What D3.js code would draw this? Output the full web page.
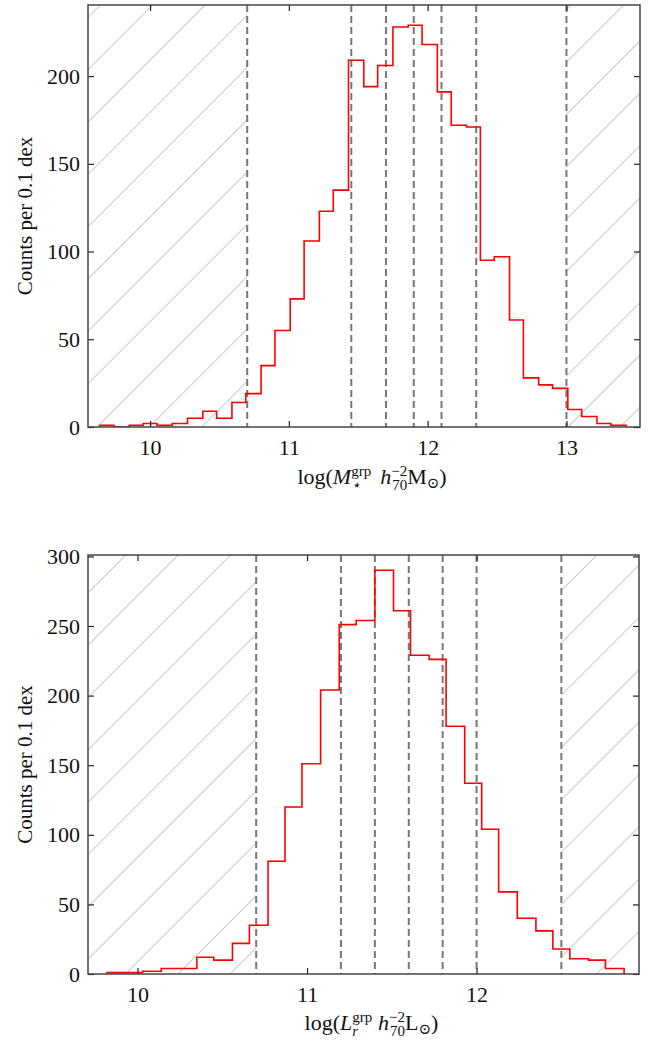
<!DOCTYPE html>
<html lang="en">
<head>
<meta charset="UTF-8">
<title>Group stellar mass and luminosity histograms</title>
<style>
  body { margin: 0; background: #fff; }
  svg text { font-family: "Liberation Serif", "Times New Roman", "DejaVu Serif", serif !important; fill: #111; }
</style>
</head>
<body>
<div id="chart"></div>
<script src="https://cdnjs.cloudflare.com/ajax/libs/d3/7.8.5/d3.min.js"></script>
<script>
// top panel: log stellar mass of groups
const massEdges = [9.64, 9.74, 9.85, 9.95, 10.05, 10.16, 10.27, 10.38, 10.48, 10.59, 10.69,
  10.80, 10.90, 11.01, 11.11, 11.22, 11.32, 11.43, 11.54, 11.64, 11.75, 11.86, 11.96, 12.07,
  12.17, 12.28, 12.38, 12.48, 12.59, 12.69, 12.80, 12.90, 13.01, 13.11, 13.22, 13.32, 13.43];
const massCounts = [1, 0, 1, 2, 1, 2, 5, 9, 5, 14, 19, 35, 55, 73, 106, 123, 135, 209, 194, 206,
  228, 229, 218, 191, 172, 171, 95, 97, 61, 28, 24, 22, 10, 6, 2, 1];
const massCuts = [10.7, 11.45, 11.7, 11.9, 12.1, 12.35, 13.0];
const massTicksX = [10, 11, 12, 13];
const massTicksY = [0, 50, 100, 150, 200];

// bottom panel: log r-band luminosity of groups
const lumEdges = [9.82, 9.92, 10.03, 10.14, 10.24, 10.35, 10.45, 10.56, 10.66, 10.77, 10.87,
  10.97, 11.08, 11.19, 11.29, 11.40, 11.51, 11.61, 11.72, 11.82, 11.93, 12.03, 12.13, 12.24,
  12.35, 12.45, 12.55, 12.66, 12.76, 12.87];
const lumCounts = [1, 1, 2, 4, 4, 12, 10, 22, 35, 81, 120, 151, 204, 251, 254, 290, 261, 229,
  226, 178, 137, 104, 59, 40, 31, 18, 11, 10, 4];
const lumCuts = [10.7, 11.2, 11.4, 11.6, 11.8, 12.0, 12.5];
const lumTicksX = [10, 11, 12];
const lumTicksY = [0, 50, 100, 150, 200, 250, 300];

const W = 659, H = 1043;
const svg = d3.select('#chart').append('svg').attr('width', W).attr('height', H);

const defs = svg.append('defs');
const pat = defs.append('pattern')
  .attr('id', 'hatch').attr('patternUnits', 'userSpaceOnUse')
  .attr('width', 37).attr('height', 37)
  .attr('patternTransform', 'rotate(45)');
pat.append('line').attr('x1', 0).attr('y1', 0).attr('x2', 0).attr('y2', 37)
  .attr('stroke', '#aaa').attr('stroke-width', 1.3);

function panel(cfg) {
  const x = d3.scaleLinear().domain(cfg.xdom).range([cfg.left, cfg.right]);
  const y = d3.scaleLinear().domain(cfg.ydom).range([cfg.bottom, cfg.top]);
  const g = svg.append('g');
  const clipId = 'clip' + cfg.id;
  defs.append('clipPath').attr('id', clipId).append('rect')
    .attr('x', cfg.left).attr('y', cfg.top)
    .attr('width', cfg.right - cfg.left).attr('height', cfg.bottom - cfg.top);
  const inner = g.append('g').attr('clip-path', `url(#${clipId})`);

  // hatched excluded regions
  inner.append('rect').attr('x', cfg.left).attr('y', cfg.top)
    .attr('width', x(cfg.cuts[0]) - cfg.left).attr('height', cfg.bottom - cfg.top)
    .attr('fill', 'url(#hatch)');
  const last = cfg.cuts[cfg.cuts.length - 1];
  inner.append('rect').attr('x', x(last)).attr('y', cfg.top)
    .attr('width', cfg.right - x(last)).attr('height', cfg.bottom - cfg.top)
    .attr('fill', 'url(#hatch)');

  // dashed bin boundaries
  inner.selectAll('line.cut').data(cfg.cuts).join('line')
    .attr('x1', d => x(d)).attr('x2', d => x(d))
    .attr('y1', cfg.top).attr('y2', cfg.bottom)
    .attr('stroke', '#777').attr('stroke-width', 2)
    .attr('stroke-dasharray', '7,4');

  // step histogram
  const pts = [[cfg.edges[0], 0]];
  cfg.counts.forEach((c, i) => {
    pts.push([cfg.edges[i], c]);
    pts.push([cfg.edges[i + 1], c]);
  });
  pts.push([cfg.edges[cfg.edges.length - 1], 0]);
  inner.append('path')
    .attr('d', d3.line().x(d => x(d[0])).y(d => y(d[1]))(pts))
    .attr('fill', 'none').attr('stroke', 'red').attr('stroke-width', 1.6);

  // axes with inward ticks on all sides
  const ax = (axis, tr) => {
    const a = g.append('g').attr('transform', tr).call(axis).attr('font-family', null);
    a.select('.domain').remove();
    a.selectAll('.tick line').attr('stroke', '#222').attr('stroke-width', 1.2);
    return a;
  };
  ax(d3.axisBottom(x).tickValues(cfg.xticks).tickSize(-6).tickPadding(12).tickFormat(d3.format('d')),
     `translate(0,${cfg.bottom})`);
  ax(d3.axisTop(x).tickValues(cfg.xticks).tickSize(-6).tickFormat(''), `translate(0,${cfg.top})`);
  ax(d3.axisLeft(y).tickValues(cfg.yticks).tickSize(-6).tickPadding(8).tickFormat(d3.format('d')),
     `translate(${cfg.left},0)`);
  ax(d3.axisRight(y).tickValues(cfg.yticks).tickSize(-6).tickFormat(''), `translate(${cfg.right},0)`);
  g.selectAll('.tick text').attr('font-size', 22).attr('fill', '#111');

  g.append('rect').attr('x', cfg.left).attr('y', cfg.top)
    .attr('width', cfg.right - cfg.left).attr('height', cfg.bottom - cfg.top)
    .attr('fill', 'none').attr('stroke', '#444').attr('stroke-width', 1.5);

  g.append('text')
    .attr('transform', `translate(32,${(cfg.top + cfg.bottom) / 2}) rotate(-90)`)
    .attr('text-anchor', 'middle').attr('font-size', 21)
    .text('Counts per 0.1 dex');

  const lab = g.append('text').attr('x', (cfg.left + cfg.right) / 2 + 8).attr('y', cfg.xlabelY)
    .attr('text-anchor', 'middle').attr('font-size', 22);
  lab.append('tspan').text('log(');
  lab.append('tspan').attr('font-style', 'italic').text(cfg.sym);
  lab.append('tspan').attr('font-size', 15).attr('dy', -8).text('grp');
  lab.append('tspan').attr('font-size', 15).attr('dx', -20).attr('dy', 14)
    .attr('font-style', 'italic').text(cfg.sub);
  lab.append('tspan').attr('dx', 20).attr('dy', -6).attr('font-style', 'italic').text('h');
  lab.append('tspan').attr('font-size', 15).attr('dy', -8).text('−2');
  lab.append('tspan').attr('font-size', 15).attr('dx', -15).attr('dy', 14).text('70');
  lab.append('tspan').attr('dy', -6).text(cfg.unit);
  lab.append('tspan').attr('font-size', 15).attr('dy', 4).text('⊙');
  lab.append('tspan').attr('dy', -4).text(')');
}

panel({
  id: 'm', edges: massEdges, counts: massCounts, cuts: massCuts,
  xticks: massTicksX, yticks: massTicksY,
  xdom: [9.553, 13.53], ydom: [0, 240.5],
  left: 88, right: 640, top: 5, bottom: 427,
  xlabelY: 484, sym: 'M', sub: '⋆', unit: 'M'
});
panel({
  id: 'l', edges: lumEdges, counts: lumCounts, cuts: lumCuts,
  xticks: lumTicksX, yticks: lumTicksY,
  xdom: [9.708, 12.958], ydom: [0, 301],
  left: 88, right: 639, top: 555, bottom: 974,
  xlabelY: 1030, sym: 'L', sub: 'r', unit: 'L'
});
</script>
</body>
</html>
